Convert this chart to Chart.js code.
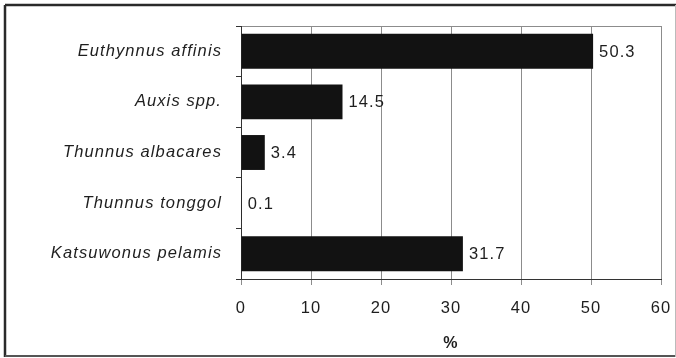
<!DOCTYPE html>
<html>
<head>
<meta charset="utf-8">
<script src="https://cdn.jsdelivr.net/npm/chart.js@4/dist/chart.umd.min.js"></script>
<style>
  html, body { margin: 0; padding: 0; background: #fff; }
  canvas { display: block; }
</style>
</head>
<body>
<canvas id="c" width="676" height="358"></canvas>
<script>
// Species composition of the catch (%)
const species = ['Euthynnus affinis', 'Auxis spp.', 'Thunnus albacares', 'Thunnus tonggol', 'Katsuwonus pelamis'];
const shares = [50.3, 14.5, 3.4, 0.1, 31.7];
const axisTicks = [0, 10, 20, 30, 40, 50, 60];
const axisTitle = '%';

const FONT = '"Liberation Sans", Arial, sans-serif';

// Page frame, plot-area box and wider letter spacing for all text
const framePlugin = {
  id: 'frame',
  beforeDraw(chart) {
    const ctx = chart.ctx;
    ctx.save();
    ctx.fillStyle = '#fff';
    ctx.fillRect(0, 0, chart.width, chart.height);
    ctx.strokeStyle = '#2a2a2a';
    ctx.lineWidth = 2.5;
    ctx.beginPath();
    ctx.moveTo(5, 5); ctx.lineTo(676, 5);
    ctx.moveTo(5, 5); ctx.lineTo(5, 357);
    ctx.stroke();
    ctx.strokeStyle = '#555';
    ctx.lineWidth = 2;
    ctx.beginPath();
    ctx.moveTo(5, 356); ctx.lineTo(676, 356);
    ctx.stroke();
    ctx.strokeStyle = '#bbb';
    ctx.lineWidth = 1;
    ctx.beginPath();
    ctx.moveTo(675.5, 5); ctx.lineTo(675.5, 357);
    ctx.stroke();
    // top edge of the plot area
    const a = chart.chartArea;
    ctx.strokeStyle = '#8c8c8c';
    ctx.lineWidth = 1;
    ctx.beginPath();
    ctx.moveTo(a.left, a.top + 0.5); ctx.lineTo(a.right, a.top + 0.5);
    ctx.stroke();
    ctx.restore();
    ctx.letterSpacing = '1.1px';
  }
};

// Value labels at the end of each bar
const valueLabels = {
  id: 'valueLabels',
  afterDatasetsDraw(chart) {
    const ctx = chart.ctx;
    const meta = chart.getDatasetMeta(0);
    ctx.save();
    ctx.font = '16.5px ' + FONT;
    ctx.fillStyle = '#1e1e1e';
    ctx.textAlign = 'left';
    ctx.textBaseline = 'middle';
    meta.data.forEach((bar, i) => {
      ctx.fillText(shares[i].toFixed(1), bar.x + 6, bar.y + 1);
    });
    ctx.restore();
  }
};

new Chart(document.getElementById('c'), {
  type: 'bar',
  data: {
    labels: species,
    datasets: [{
      data: shares,
      backgroundColor: '#121212',
      borderWidth: 0,
      categoryPercentage: 1,
      barPercentage: 0.69
    }]
  },
  options: {
    indexAxis: 'y',
    responsive: false,
    animation: false,
    events: [],
    layout: { padding: { top: 26, right: 15, left: 0, bottom: 0 } },
    plugins: {
      legend: { display: false },
      tooltip: { enabled: false }
    },
    scales: {
      x: {
        min: 0,
        max: 60,
        afterBuildTicks(scale) {
          scale.ticks = axisTicks.map(v => ({ value: v }));
        },
        afterFit(scale) {
          scale.height = 79;
          scale.paddingLeft = 0;
          scale.paddingRight = 0;
        },
        grid: {
          color: '#8c8c8c',
          lineWidth: 1,
          tickLength: 6,
          drawTicks: true
        },
        border: { color: '#333', width: 1 },
        ticks: {
          color: '#1e1e1e',
          font: { family: FONT, size: 16.5 },
          padding: 14,
          maxRotation: 0
        },
        title: {
          display: true,
          text: axisTitle,
          color: '#1e1e1e',
          font: { family: FONT, size: 16, weight: 'bold' },
          padding: { top: 6, bottom: 5 }
        }
      },
      y: {
        afterFit(scale) { scale.width = 241; },
        grid: {
          drawOnChartArea: false,
          drawTicks: true,
          tickLength: 5,
          color: '#333',
          offset: true
        },
        border: { color: '#333', width: 1 },
        ticks: {
          color: '#1e1e1e',
          font: { family: FONT, size: 16.5, style: 'italic' },
          padding: 14
        }
      }
    }
  },
  plugins: [framePlugin, valueLabels]
});
</script>
</body>
</html>
